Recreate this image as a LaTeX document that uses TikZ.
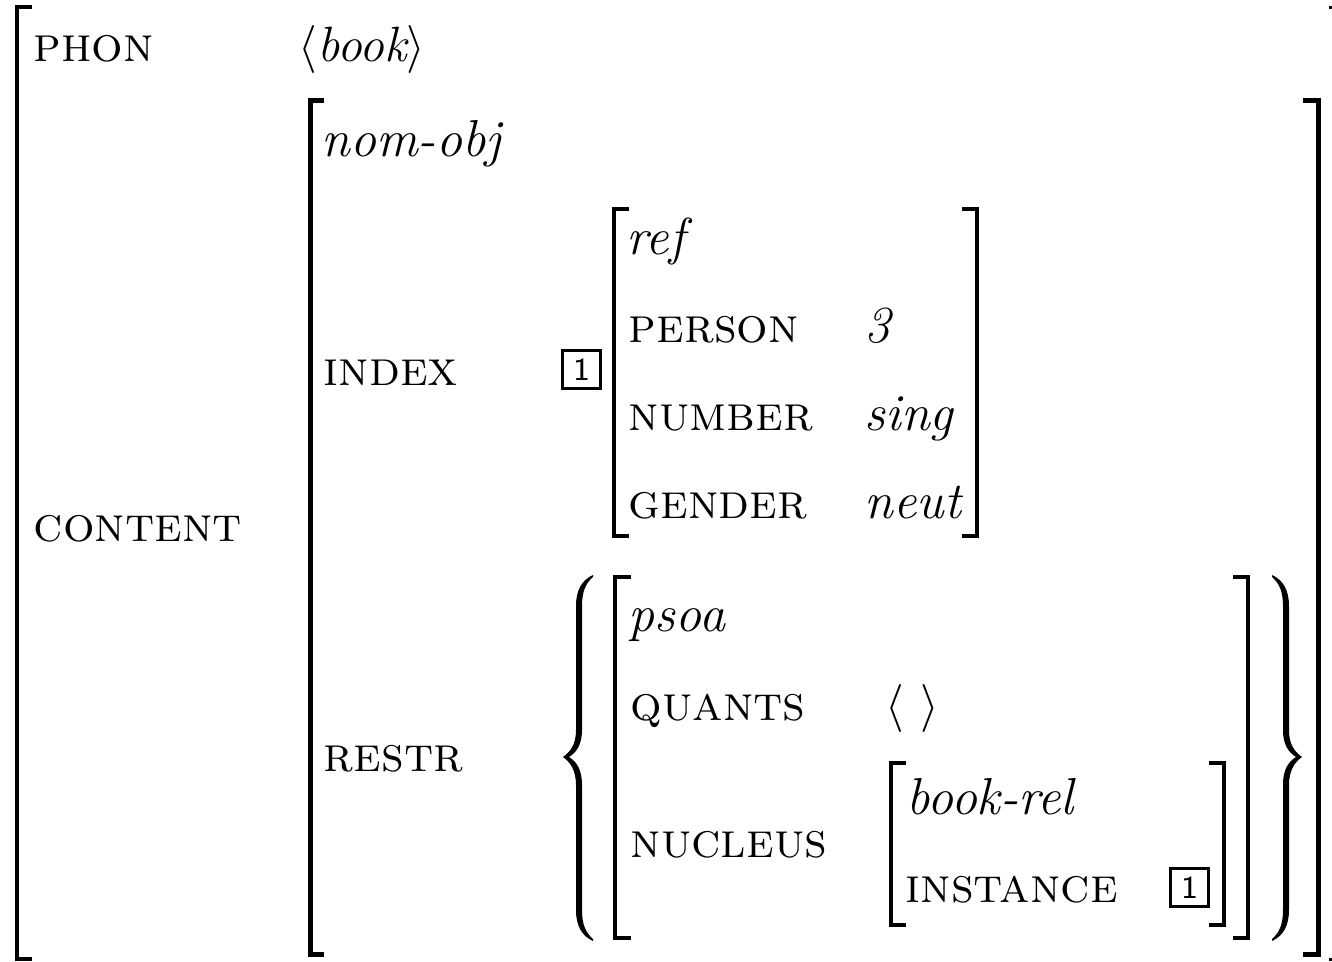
\documentclass[tikz,border=0pt]{standalone}
\newcommand\avmBracePath{(593,575)
    .. controls (582,580) and (576,590) .. (576,606)
    -- (576,730)
    .. controls (576,745) and (570,752) .. (563,757)
    .. controls (570,762) and (576,770) .. (576,785)
    -- (576,910)
    .. controls (576,926) and (582,936) .. (593,941)
    -- (593,939)
    .. controls (586,933) and (582,925) .. (582,910)
    -- (582,785)
    .. controls (582,770) and (577,762) .. (569,757)
    .. controls (577,752) and (582,744) .. (582,730)
    -- (582,606)
    .. controls (582,591) and (586,583) .. (593,577) -- cycle}
\begin{document}
\begin{tikzpicture}[x=0.25pt,y=-0.25pt,
  feat/.style={anchor=base west, inner sep=0pt, xshift=-0.5pt, font=\fontsize{12.4}{15}\selectfont\scshape},
  typ/.style={anchor=base west, inner sep=0pt, xshift=-1pt, font=\fontsize{13}{15}\selectfont\itshape},
  tagbox/.style={draw, line width=0.75pt, minimum size=9.6pt, inner sep=0pt, font=\fontsize{8}{9}\selectfont\sffamily},
  brk/.style={line width=1pt, line join=miter, line cap=butt},
  brkc/.style={line width=1.25pt, line join=miter, line cap=butt},
  bracefill/.style={fill=black, draw=none}]
\useasboundingbox (0,0) rectangle (1332,962);
% outer matrix
\draw[brk] (32,7) -- (17,7) -- (17,959) -- (32,959);
\fill (1329,6) rectangle (1332,9);
\fill (1329,958) rectangle (1332,961);
\node[feat] (phon) at (35,62) {phon};
\node[anchor=base west, inner sep=0pt, font=\fontsize{12.4}{15}\selectfont] (phonval) at (298,62) {$\langle\textit{book}\rangle$};
\node[feat] (content) at (35,542) {content};
% content matrix
\draw[brkc] (324,101) -- (310,101) -- (310,955) -- (324,955);
\draw[brkc] (1303,101) -- (1318,101) -- (1318,955) -- (1303,955);
\node[typ] (nomobj) at (325,157) {nom-obj};
\node[feat] (index) at (325,386) {index};
\node[tagbox] (tagA) at (581.5,369.5) {1};
% ref matrix
\draw[brk] (629,209) -- (614,209) -- (614,536) -- (629,536);
\draw[brk] (962,209) -- (977,209) -- (977,536) -- (962,536);
\node[typ] (ref) at (630,255) {ref};
\node[feat] (person) at (630,343) {person};
\node[typ] (personval) at (868,343) {3};
\node[feat] (number) at (630,431) {number};
\node[typ] (numberval) at (868,431) {sing};
\node[feat] (gender) at (630,519) {gender};
\node[typ] (genderval) at (868,519) {neut};
% restr
\node[feat] (restr) at (325,772) {restr};
\fill[bracefill] \avmBracePath;
\begin{scope}[shift={(1865,0)},xscale=-1]
\fill[bracefill] \avmBracePath;
\end{scope}
% psoa matrix
\draw[brk] (631,577) -- (615,577) -- (615,938) -- (631,938);
\draw[brk] (1233,577) -- (1248,577) -- (1248,938) -- (1233,938);
\node[typ] (psoa) at (632,632) {psoa};
\node[feat] (quants) at (632,721) {quants};
\node[anchor=base west, inner sep=0pt, font=\fontsize{12.4}{15}\selectfont] (quantsval) at (885,721) {$\langle\ \rangle$};
\node[feat] (nucleus) at (632,858) {nucleus};
% book-rel matrix
\draw[brk] (906,763) -- (891,763) -- (891,925) -- (906,925);
\draw[brk] (1209,763) -- (1224,763) -- (1224,925) -- (1209,925);
\node[typ] (bookrel) at (910,815) {book-rel};
\node[feat] (instance) at (907,903) {instance};
\node[tagbox] (tagB) at (1189.5,887.5) {1};
\end{tikzpicture}
\end{document}
